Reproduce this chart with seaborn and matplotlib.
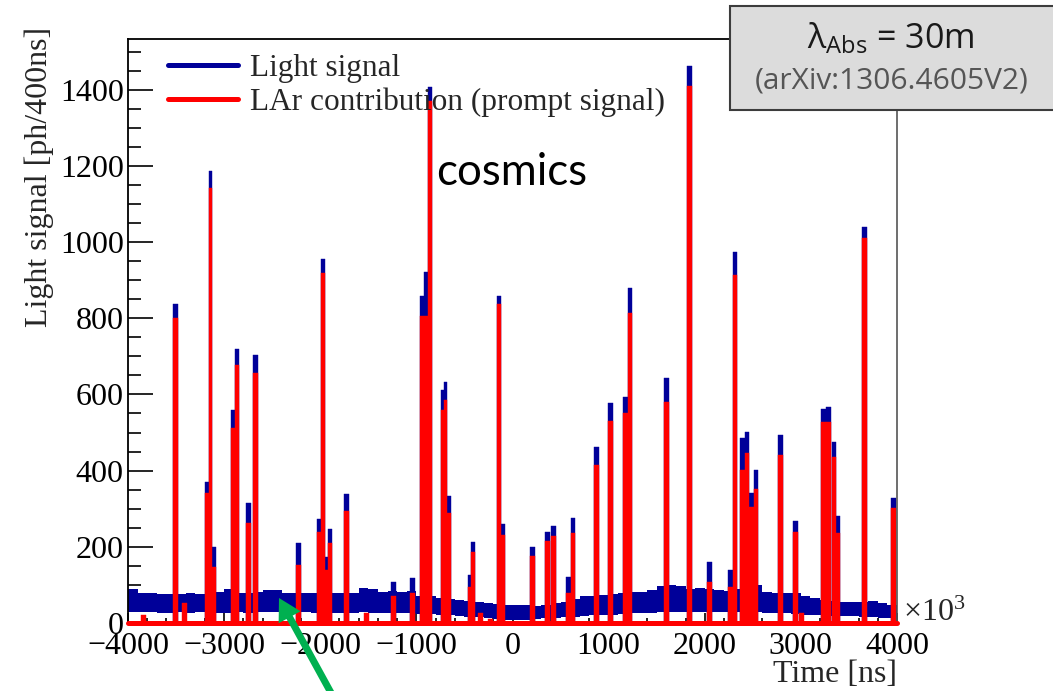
import numpy as np
import seaborn as sns
import matplotlib
matplotlib.use("Agg")
import matplotlib.pyplot as plt
from matplotlib.patches import Rectangle, FancyArrow
from matplotlib.lines import Line2D
from matplotlib.ticker import MultipleLocator

# ---------------------------------------------------------------- data
# Time axis in units of 10^3 ns.
# Noise envelope of the total light signal, one value per 100 (x10^3 ns) slice from -4000.
band_start = -4000
band_step = 100
band_hi = [90, 80, 78, 76, 75, 76, 80, 76, 76, 82,
           88, 80, 80, 82, 86, 87, 80, 80, 78, 80,
           78, 78, 80, 80, 91, 88, 82, 84, 82, 85,
           72, 70, 66, 62, 60, 57, 54, 52, 50, 48,
           48, 47, 45, 46, 52, 55, 64, 70, 72, 74,
           76, 80, 82, 82, 86, 98, 100, 98, 88, 92,
           90, 87, 85, 90, 100, 100, 82, 78, 80, 78,
           72, 66, 60, 58, 56, 55, 55, 58, 52, 46]
band_lo = [30, 28, 28, 27, 27, 28, 26, 28, 27, 26,
           27, 28, 27, 28, 29, 28, 28, 28, 28, 27,
           27, 26, 27, 26, 28, 27, 25, 26, 25, 26,
           24, 24, 22, 20, 18, 17, 15, 13, 10, 8,
           8, 8, 10, 12, 13, 15, 17, 18, 20, 21,
           22, 24, 25, 26, 27, 28, 29, 30, 30, 30,
           30, 29, 28, 28, 27, 28, 27, 26, 25, 24,
           22, 21, 20, 19, 18, 18, 17, 16, 14, 13]

# Cosmic-ray pulses: time, total light signal, LAr (prompt) contribution
spike_t = [-3506, -3178, -3139, -3105, -2905, -2866, -2744, -2673, -2224, -2007,
           -1973, -1935, -1898, -1726, -1242, -1040, -935, -901, -866, -720,
           -695, -665, -440, -415, -139, -108, 204, 360, 428, 579,
           630, 870, 1016, 1179, 1223, 1598, 1838, 2046, 2270, 2310,
           2394, 2439, 2486, 2533, 2785, 2941, 3237, 3284, 3353, 3378,
           3664, 3960]
spike_total = [837, 371, 1187, 200, 559, 718, 316, 703, 209, 273,
               955, 174, 247, 339, 108, 118, 858, 922, 1408, 612,
               633, 334, 126, 213, 858, 260, 199, 238, 255, 122,
               276, 463, 577, 594, 879, 642, 1461, 161, 139, 975,
               485, 502, 340, 402, 493, 268, 563, 566, 476, 281,
               1040, 329]
spike_lar = [801, 342, 1143, 148, 512, 677, 262, 655, 152, 240,
             919, 140, 209, 294, 72, 79, 806, 806, 1370, 560,
             585, 288, 95, 187, 837, 231, 177, 214, 229, 78,
             235, 416, 530, 550, 814, 581, 1410, 108, 95, 913,
             402, 445, 305, 351, 441, 240, 528, 528, 437, 235,
             1010, 303]

# Small LAr-only pulses hidden inside the noise band
lar_only_t = [-3835, -3413, -1517, -337, -225, 3009]
lar_only = [21, 52, 25, 25, 10, 25]

legend_labels = ["Light signal", "LAr contribution (prompt signal)"]
x_ticks = list(range(-4000, 4001, 1000))
y_ticks = list(range(0, 1401, 200))

BLUE = "#000099"
RED = "#ff0000"
PULSE_WIDTH = 50
FS = 23


def bar_edges(t, width):
    """Bin edges for pulses of a given width; touching pulses share an edge."""
    t = np.asarray(t, float)
    left = t - width / 2
    right = t + width / 2
    for i in range(len(t) - 1):
        if right[i] > left[i + 1]:
            mid = 0.5 * (t[i] + t[i + 1])
            right[i] = mid
            left[i + 1] = mid
    return np.unique(np.concatenate([left, right])).tolist()


# ---------------------------------------------------------------- style
sns.set_theme(style="ticks")
plt.rcParams["font.family"] = ["Liberation Serif", "DejaVu Serif"]
plt.rcParams["axes.unicode_minus"] = True

W, H = 1053, 691
fig = plt.figure(figsize=(W / 100, H / 100), dpi=100)
fig.patch.set_facecolor("white")
ax = fig.add_axes([128 / W, 1 - 623 / H, (897 - 128) / W, (623 - 39) / H])
ax.set_facecolor("white")
ax.set_axisbelow(True)

# noise band of the total signal
band_edges = band_start + band_step * np.arange(len(band_hi) + 1)
ax.fill_between(band_edges, np.r_[band_lo, band_lo[-1]], np.r_[band_hi, band_hi[-1]],
                step="post", color=BLUE, linewidth=0, zorder=1.0)

# pulses: total light first, LAr contribution on top
edges = bar_edges(spike_t, PULSE_WIDTH)
sns.histplot(x=spike_t, weights=spike_total, bins=edges, color=BLUE, alpha=1,
             edgecolor=BLUE, linewidth=0.3, ax=ax, zorder=1.1)
sns.histplot(x=spike_t, weights=spike_lar, bins=edges, color=RED, alpha=1,
             edgecolor=RED, linewidth=0.3, ax=ax, zorder=1.2)
sns.histplot(x=lar_only_t, weights=lar_only, bins=bar_edges(lar_only_t, PULSE_WIDTH),
             color=RED, alpha=1, edgecolor=RED, linewidth=0.3, ax=ax, zorder=1.2)
# LAr histogram at zero level
ax.axhline(0, color=RED, linewidth=3.6, zorder=2.6, clip_on=False)

# ---------------------------------------------------------------- axes
ax.set_xlim(-4000, 4000)
ax.set_ylim(0, 1533)
ax.set_xticks(x_ticks)
ax.set_yticks(y_ticks)
ax.xaxis.set_minor_locator(MultipleLocator(200))
ax.yaxis.set_minor_locator(MultipleLocator(50))
ax.tick_params(axis="both", which="both", direction="in", colors="black",
               labelsize=FS, width=1.2)
ax.tick_params(axis="y", which="major", length=18, pad=3)
ax.tick_params(axis="y", which="minor", length=9.5)
ax.tick_params(axis="x", which="major", length=7, pad=6.5)
ax.tick_params(axis="x", which="minor", length=3.6)

for side in ("left", "top", "bottom"):
    ax.spines[side].set_color("black")
    ax.spines[side].set_linewidth(1.3)
ax.spines["right"].set_color("#555555")
ax.spines["right"].set_linewidth(1.2)

ax.set_xlabel("Time [ns]", loc="right", fontsize=FS, labelpad=-1)
ax.set_ylabel("Light signal [ph/400ns]", loc="top", fontsize=FS)
ax.yaxis.set_label_coords(-0.096, 1.02)
ax.text(1.008, 0.017, r"$\mathregular{\times10^{3}}$", transform=ax.transAxes,
        ha="left", va="center", fontsize=FS)

handles = [Line2D([], [], color=BLUE, linewidth=3.6),
           Line2D([], [], color=RED, linewidth=3.6)]
ax.legend(handles, legend_labels, loc="upper left", bbox_to_anchor=(0.052, 0.975),
          frameon=False, borderpad=0, borderaxespad=0, handlelength=2.25,
          handletextpad=0.36, labelspacing=0.15, fontsize=22.5)

ax.text(0.4993, 0.75, "cosmics", transform=ax.transAxes, ha="center", va="baseline",
        fontsize=31.5, family="Lato", color="black")

# ---------------------------------------------------------------- annotations
box = Rectangle((730 / W, 1 - 110 / H), (1060 - 730) / W, 104 / H,
                transform=fig.transFigure, facecolor="#dcdcdc", edgecolor="#3c3c3c",
                linewidth=1.5, zorder=5)
fig.add_artist(box)
fig.text(891 / W, 1 - 38 / H, r"$\mathregular{\lambda_{Abs}}$ = 30m", ha="center",
         va="center", fontsize=24.5, family="Open Sans", color="#1a1a1a", zorder=6)
fig.text(892 / W, 1 - 81 / H, "(arXiv:1306.4605V2)", ha="center", va="center",
         fontsize=21.5, family="Open Sans", color="#555555", zorder=6)

arrow = FancyArrow(335.5 / 100, -10 / 100, -56.5 / 100, 103 / 100, width=0.07,
                   head_width=0.25, head_length=0.22, length_includes_head=True,
                   transform=fig.dpi_scale_trans, color="#00b050", linewidth=0, zorder=6)
fig.add_artist(arrow)

fig.savefig("out.png", dpi=100, facecolor="white")
